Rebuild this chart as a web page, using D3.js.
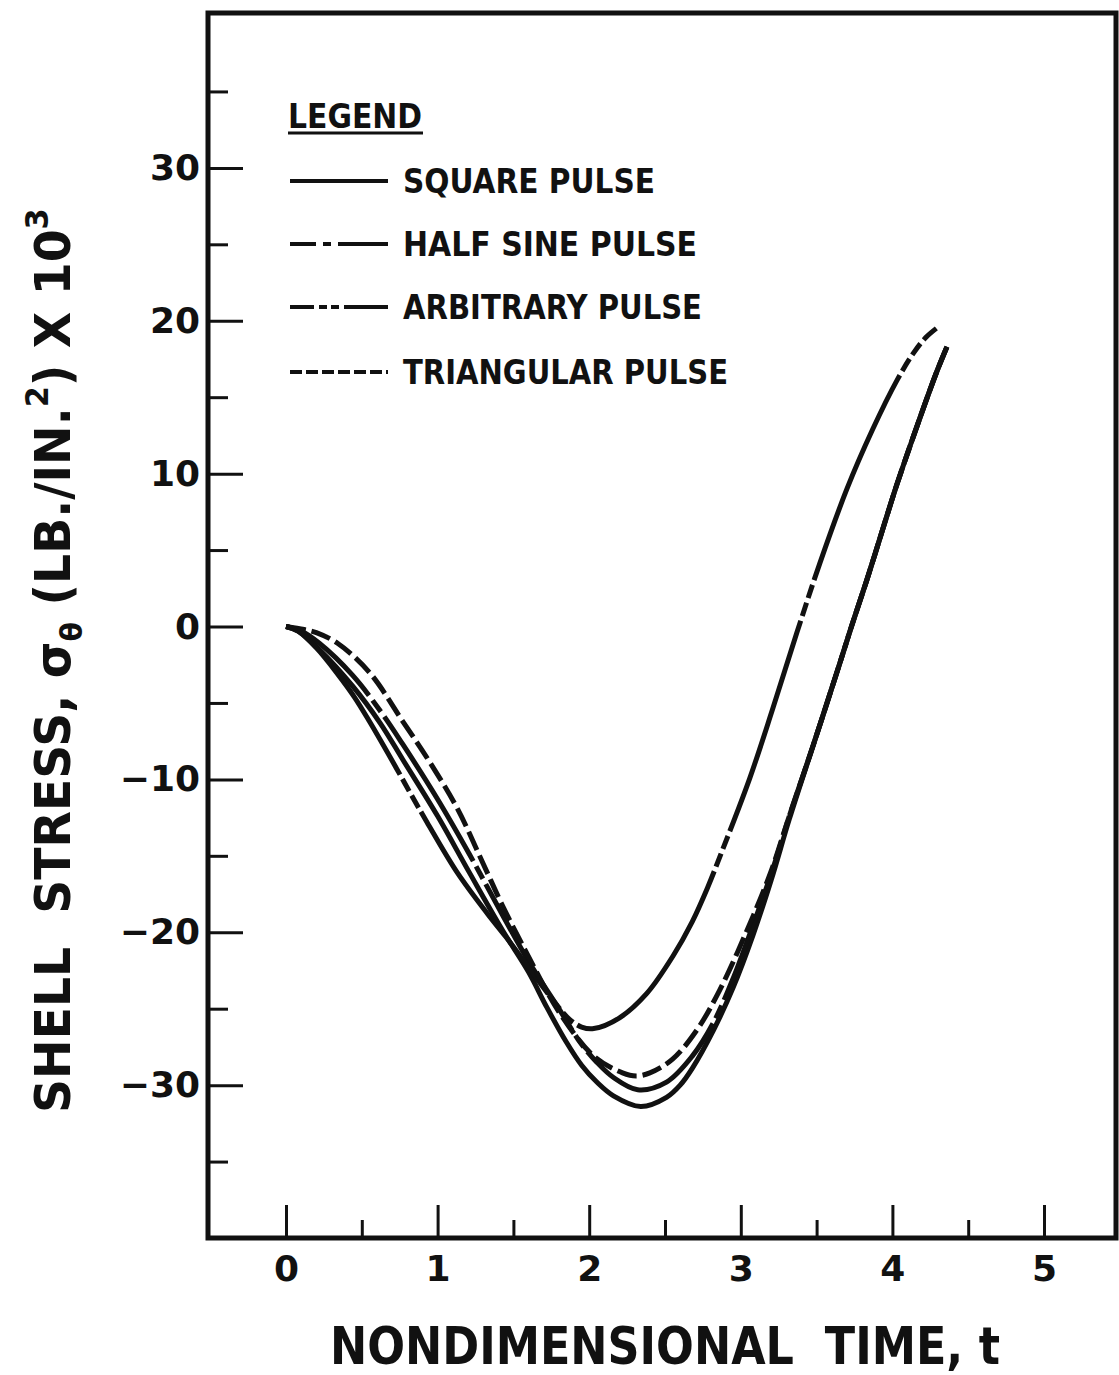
<!DOCTYPE html>
<html><head><meta charset="utf-8">
<script src="https://cdn.jsdelivr.net/npm/d3@7"></script>
<style>
body{margin:0;background:#fff}
svg{display:block}
text{font-family:"DejaVu Sans",sans-serif;font-weight:bold;fill:#111}
</style>
</head><body>
<svg id="chart" width="1119" height="1375"></svg>
<script>
// ---------- data ----------
const seriesNames = ["SQUARE PULSE", "HALF SINE PULSE", "ARBITRARY PULSE", "TRIANGULAR PULSE"];

const tSquare = [0, 0.08, 0.22, 0.44, 0.62, 0.77, 1.0, 1.21, 1.43, 1.6, 1.72, 1.85, 1.95, 2.05, 2.16, 2.34, 2.51, 2.6, 2.68, 2.82, 2.95, 3.08, 3.2, 3.32, 3.48, 3.65, 3.73, 3.83, 3.95, 4.03, 4.18, 4.29, 4.36];
const vSquare = [0, -0.3, -1.5, -3.9, -6.3, -8.7, -12.4, -16.1, -19.9, -22.6, -24.9, -27.2, -28.7, -29.8, -30.7, -31.4, -30.8, -30.0, -28.9, -26.4, -23.6, -20.2, -16.6, -12.6, -7.7, -2.5, 0, 3.0, 6.8, 9.3, 13.6, 16.6, 18.3];

const tHalfSine = [0, 0.1, 0.22, 0.44, 0.62, 0.77, 1.0, 1.21, 1.43, 1.6, 1.8, 1.94, 2.05, 2.16, 2.32, 2.51, 2.68, 2.82, 2.95, 3.06, 3.2, 3.32, 3.48, 3.65, 3.73, 3.83, 3.95, 4.03, 4.18, 4.29, 4.36];
const vHalfSine = [0, -0.3, -1.1, -3.2, -5.5, -7.7, -11.3, -14.9, -18.9, -21.9, -25.0, -27.2, -28.5, -29.5, -30.3, -29.8, -28.1, -25.9, -23.0, -20.1, -16.2, -12.4, -7.7, -2.5, 0, 3.0, 6.8, 9.3, 13.6, 16.6, 18.3];

const tArbitrary = [0, 0.08, 0.2, 0.34, 0.45, 0.55, 0.73, 0.82, 0.93, 1.13, 1.33, 1.45, 1.6, 1.75, 1.87, 1.95, 2.03, 2.2, 2.38, 2.55, 2.68, 2.78, 2.88, 3.06, 3.21, 3.37, 3.52, 3.70, 3.87, 4.03, 4.14, 4.22, 4.29];
const vArbitrary = [0, -0.3, -1.4, -3.1, -4.6, -6.2, -9.3, -10.9, -12.8, -16.1, -18.8, -20.3, -22.3, -24.3, -25.7, -26.2, -26.3, -25.6, -24.0, -21.6, -19.3, -17.1, -14.6, -9.9, -5.4, -0.4, 4.1, 9.0, 12.9, 16.1, 17.9, 18.9, 19.5];

const tTriangular = [0, 0.12, 0.2, 0.34, 0.55, 0.77, 0.95, 1.13, 1.3, 1.43, 1.6, 1.8, 2.03, 2.22, 2.31, 2.40, 2.55, 2.71, 2.86, 3.04, 3.2, 3.32, 3.48, 3.65, 3.73, 3.83, 3.95, 4.03, 4.18, 4.29, 4.36];
const vTriangular = [0, -0.2, -0.4, -1.1, -3.0, -6.2, -8.9, -11.9, -15.5, -18.3, -21.6, -25.2, -28.1, -29.2, -29.4, -29.2, -28.3, -26.4, -23.8, -19.9, -16.0, -12.4, -7.7, -2.5, 0, 3.0, 6.8, 9.3, 13.6, 16.6, 18.3];

const xTicks = [0, 1, 2, 3, 4, 5];
const xMinorTicks = [0.5, 1.5, 2.5, 3.5, 4.5];
const yTicks = [-30, -20, -10, 0, 10, 20, 30];
const yMinorTicks = [-35, -25, -15, -5, 5, 15, 25, 35];

// ---------- layout ----------
const svg = d3.select("#chart");
const frame = {left: 208, right: 1116, top: 13, bottom: 1238};
const x = d3.scaleLinear().domain([0, 5]).range([286, 1044]);
const y = d3.scaleLinear().domain([-40, 40]).range([1238, 15]);

// frame
svg.append("rect")
  .attr("x", frame.left).attr("y", frame.top)
  .attr("width", frame.right - frame.left).attr("height", frame.bottom - frame.top)
  .attr("fill", "none").attr("stroke", "#111").attr("stroke-width", 5);

// y axis: major ticks + labels
const fmt = d => d < 0 ? "\u2212" + Math.abs(d) : String(d);
const yAxis = svg.append("g").attr("transform", `translate(${frame.left},0)`)
  .call(d3.axisLeft(y).tickValues(yTicks).tickSizeInner(-35).tickSizeOuter(0).tickPadding(8).tickFormat(fmt));
yAxis.select(".domain").remove();
yAxis.selectAll(".tick line").attr("stroke", "#111").attr("stroke-width", 3);
yAxis.selectAll(".tick text").attr("font-size", 36).attr("font-family", "DejaVu Sans").attr("font-weight", "bold").attr("fill", "#111");

const yMinor = svg.append("g").attr("transform", `translate(${frame.left},0)`)
  .call(d3.axisLeft(y).tickValues(yMinorTicks).tickSizeInner(-20).tickSizeOuter(0).tickFormat(""));
yMinor.select(".domain").remove();
yMinor.selectAll(".tick line").attr("stroke", "#111").attr("stroke-width", 3);

// x axis
const xAxis = svg.append("g").attr("transform", `translate(0,${frame.bottom})`)
  .call(d3.axisBottom(x).tickValues(xTicks).tickSizeInner(-33).tickSizeOuter(0).tickPadding(17).tickFormat(d => String(d)));
xAxis.select(".domain").remove();
xAxis.selectAll(".tick line").attr("stroke", "#111").attr("stroke-width", 3);
xAxis.selectAll(".tick text").attr("font-size", 36).attr("font-family", "DejaVu Sans").attr("font-weight", "bold").attr("fill", "#111");

const xMinor = svg.append("g").attr("transform", `translate(0,${frame.bottom})`)
  .call(d3.axisBottom(x).tickValues(xMinorTicks).tickSizeInner(-18).tickSizeOuter(0).tickFormat(""));
xMinor.select(".domain").remove();
xMinor.selectAll(".tick line").attr("stroke", "#111").attr("stroke-width", 3);

// ---------- curves ----------
const series = [
  {name: seriesNames[0], t: tSquare, v: vSquare, dash: null, offset: 0},
  {name: seriesNames[1], t: tHalfSine, v: vHalfSine, dash: "170,6,14,6", offset: 60},
  {name: seriesNames[2], t: tArbitrary, v: vArbitrary, dash: "222,5,14,5,14,5", offset: 32},
  {name: seriesNames[3], t: tTriangular, v: vTriangular, dash: "20,6", offset: 0}
];
const line = d3.line().x(d => x(d[0])).y(d => y(d[1])).curve(d3.curveCatmullRom.alpha(0.5));
svg.append("g").selectAll("path").data(series).join("path")
  .attr("d", s => line(s.t.map((t, i) => [t, s.v[i]])))
  .attr("fill", "none").attr("stroke", "#111").attr("stroke-width", 5)
  .attr("stroke-linejoin", "round")
  .attr("stroke-dasharray", s => s.dash)
  .attr("stroke-dashoffset", s => s.offset);

// ---------- legend ----------
const lg = svg.append("g");
lg.append("text").attr("x", 288).attr("y", 128).attr("font-size", 33)
  .attr("textLength", 134).attr("lengthAdjust", "spacingAndGlyphs").text("LEGEND");
lg.append("line").attr("x1", 288).attr("x2", 423).attr("y1", 133).attr("y2", 133)
  .attr("stroke", "#111").attr("stroke-width", 3);
const legendDash = [null, "26,7,8,7,60", "24,5,8,4,8,5,60", "12,4"];
const legendRowY = [181, 244, 307, 372];
const legendTextLen = [252, 294, 299, 325];
seriesNames.forEach((n, i) => {
  lg.append("line").attr("x1", 290).attr("x2", 388).attr("y1", legendRowY[i]).attr("y2", legendRowY[i])
    .attr("stroke", "#111").attr("stroke-width", 4).attr("stroke-dasharray", legendDash[i]);
  lg.append("text").attr("x", 403).attr("y", legendRowY[i] + 12).attr("font-size", 33)
    .attr("textLength", legendTextLen[i]).attr("lengthAdjust", "spacingAndGlyphs").text(n);
});

// ---------- axis titles ----------
svg.append("text").attr("x", 330).attr("y", 1364).attr("font-size", 52)
  .attr("textLength", 670).attr("lengthAdjust", "spacingAndGlyphs")
  .style("white-space", "pre").text("NONDIMENSIONAL  TIME, t");

const yt = svg.append("text").attr("font-size", 50).style("white-space", "pre");
yt.append("tspan").text("SHELL  STRESS, \u03C3");
yt.append("tspan").attr("font-size", 30).attr("dy", 12).text("\u03B8");
yt.append("tspan").attr("dy", -12).text(" (LB./IN.");
yt.append("tspan").attr("font-size", 32).attr("dy", -22).text("2");
yt.append("tspan").attr("dy", 22).text(") X 10");
yt.append("tspan").attr("font-size", 32).attr("dy", -22).text("3");
const bw = yt.node().getBBox().width;
yt.attr("transform", `translate(70,1113) rotate(-90) scale(${905 / bw},1)`);
</script>
</body></html>
